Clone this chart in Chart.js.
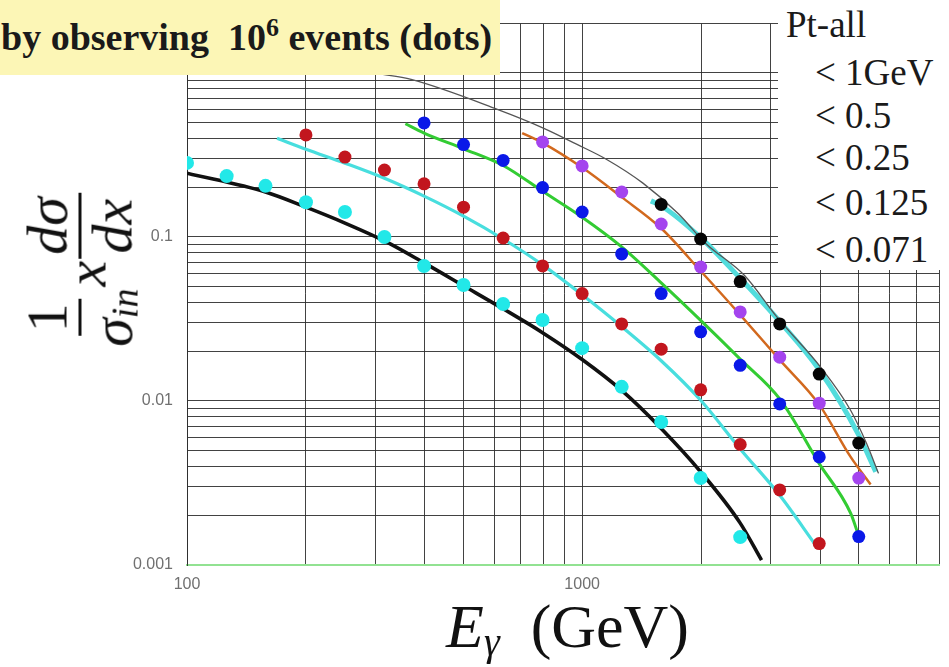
<!DOCTYPE html>
<html><head><meta charset="utf-8">
<script src="https://cdn.jsdelivr.net/npm/chart.js@4"></script>
<style>
html,body{margin:0;padding:0;background:#fff;}
#wrap{position:relative;width:949px;height:667px;overflow:hidden;background:#fff;}
#c{position:absolute;left:0;top:0;}
.ov{position:absolute;white-space:nowrap;}
#titlebox{left:0;top:0;width:500px;height:75px;background:#fcf6b6;}
#title{left:1px;top:18px;font:bold 38px 'Liberation Serif','Times New Roman',serif;line-height:38px;color:#1a1a1a;}
#title .sup{font-size:26px;position:relative;top:-14px;}
#legbox{left:778px;top:0;width:171px;height:270px;background:#fff;}
.leg{font:37px 'Liberation Serif','Times New Roman',serif;line-height:37px;color:#1a1a1a;}
#ylab{left:80px;top:270px;transform:translate(-50%,-50%) rotate(-90deg);font:italic 58px 'Liberation Serif','Times New Roman',serif;color:#111;display:flex;align-items:center;line-height:1;}
.frac{display:inline-flex;flex-direction:column;align-items:center;}
.num{border-bottom:3px solid #111;padding:0 4px 2px 4px;line-height:1;}
.den{line-height:1;padding-top:2px;}
.rm{font-style:normal;}
#ylab sub{font-size:38px;position:relative;top:6px;vertical-align:baseline;}
.xv{position:relative;top:6px;margin:0 2px;}
#xlab{left:446px;top:595px;font:62px 'Liberation Serif','Times New Roman',serif;line-height:62px;color:#111;}
#xlab .it{font-style:italic;}
#xlab .sb{font-style:italic;font-size:40px;position:relative;top:8px;}
</style></head>
<body>
<div id="wrap">
<canvas id="c" width="949" height="667"></canvas>
<div class="ov" id="titlebox"></div>
<div class="ov" id="title">by observing&nbsp;&nbsp;10<span class="sup">6</span> events (dots)</div>
<div class="ov" id="legbox"></div>
<div class="ov leg" style="left:786px;top:6px;">Pt-all</div>
<div class="ov leg" style="left:815px;top:54px;">&lt; 1GeV</div>
<div class="ov leg" style="left:815px;top:97px;">&lt; 0.5</div>
<div class="ov leg" style="left:815px;top:139px;">&lt; 0.25</div>
<div class="ov leg" style="left:815px;top:184px;">&lt; 0.125</div>
<div class="ov leg" style="left:815px;top:231px;">&lt; 0.071</div>
<div class="ov" id="ylab"><span class="frac"><span class="num rm">1</span><span class="den">σ<sub>in</sub></span></span><span class="xv">x</span><span class="frac"><span class="num">dσ</span><span class="den">dx</span></span></div>
<div class="ov" id="xlab"><span class="it">E</span><span class="sb">γ</span>&nbsp;&nbsp;(GeV)</div>
</div>
<script>
// ---- tick labels ----
const xLabelAt = [100, 1000];
const xTickLabels = ['100', '1000'];
const yLabelAt = [0.001, 0.01, 0.1];
const yTickLabels = ['0.001', '0.01', '0.1'];
const xMin = 100, xMax = 8000, yMin = 0.001, yMax = 2;

// ---- dots (simulated 10^6 events) ----
const cyanDotX = [100,126,158,200,251,316,398,501,631,794,1000,1259,1585,1995,2512];
const cyanDotY = [0.283,0.235,0.205,0.163,0.142,0.100,0.0666,0.051,0.039,0.0312,0.021,0.0122,0.00745,0.00339,0.00148];
const redDotX = [200,251,316,398,501,631,794,1000,1259,1585,1995,2512,3162,3981];
const redDotY = [0.419,0.307,0.256,0.211,0.152,0.0986,0.0666,0.0452,0.0295,0.0207,0.0117,0.00543,0.00287,0.00135];
const blueDotX = [398,501,631,794,1000,1259,1585,1995,2512,3162,3981,5012];
const blueDotY = [0.496,0.366,0.293,0.200,0.142,0.0788,0.0452,0.0264,0.0165,0.0096,0.00456,0.00149];
const purpleDotX = [794,1000,1259,1585,1995,2512,3162,3981,5012];
const purpleDotY = [0.380,0.271,0.188,0.120,0.0656,0.0349,0.0185,0.0097,0.00339];
const blackDotX = [1585,1995,2512,3162,3981,5012];
const blackDotY = [0.158,0.0972,0.0535,0.0295,0.0146,0.00554];

// ---- curves ----
const blackCurveX = [100,158,200,251,316,398,501,631,794,1000,1259,1585,1995,2512,2844];
const blackCurveY = [0.245,0.188,0.152,0.1216,0.0946,0.0695,0.0504,0.0365,0.0261,0.0179,0.0116,0.0068,0.0037,0.0018,0.00107];
const cyanCurve2X = [169,200,251,316,398,501,631,794,1000,1259,1585,1995,2512,3162,3900];
const cyanCurve2Y = [0.40,0.343,0.282,0.228,0.1775,0.134,0.0972,0.0676,0.0444,0.0284,0.0176,0.0101,0.0051,0.00266,0.00132];
const greenCurveX = [357,398,501,631,794,1000,1259,1585,1995,2512,3162,3981,4780,5012];
const greenCurveY = [0.49,0.43,0.345,0.273,0.19,0.132,0.087,0.0525,0.031,0.018,0.0103,0.00415,0.00207,0.0015];
const orangeCurveX = [705,794,1000,1259,1585,1995,2512,3162,3981,4780,5370];
const orangeCurveY = [0.43,0.375,0.265,0.175,0.113,0.062,0.0335,0.0178,0.0095,0.00456,0.0031];
const cyanCurve3X = [1493,1585,1995,2512,3162,3981,5012,5534];
const cyanCurve3Y = [0.166,0.155,0.099,0.056,0.0305,0.0155,0.0062,0.0037];
const grayCurveX = [305,369,610,800,968,1151,1425,1755,2048,2580,3121,4019,4783,5243,5623];
const grayCurveY = [0.99,0.913,0.600,0.460,0.368,0.298,0.213,0.138,0.092,0.058,0.0322,0.016,0.00875,0.00552,0.00362];

function pts(xs, ys) { return xs.map((x, i) => ({x: x, y: ys[i]})); }

// grid positions (1..9 per decade)
const xGrid = [];
[100, 1000].forEach(d => { for (let m = 1; m <= 9; m++) { const v = d * m; if (v <= xMax) xGrid.push(v); } });
const yGrid = [];
[0.001, 0.01, 0.1].forEach(d => { for (let m = 1; m <= 9; m++) yGrid.push(+(d * m).toPrecision(3)); });
yGrid.push(1, 2);

function curve(xs, ys, color, width, order) {
  return {type: 'line', data: pts(xs, ys), borderColor: color, borderWidth: width,
    pointRadius: 0, fill: false, cubicInterpolationMode: 'monotone', order: order};
}
function dots(xs, ys, color, r, order) {
  return {type: 'line', data: pts(xs, ys), showLine: false, pointRadius: r, pointHoverRadius: r,
    pointBackgroundColor: color, pointBorderWidth: 0, borderColor: color, order: order};
}

const gridDark = 'rgba(45,45,45,0.9)';
const green = '#92e292';

new Chart(document.getElementById('c'), {
  type: 'line',
  data: {
    datasets: [
      dots(blackDotX, blackDotY, '#050505', 6.5, 1),
      dots(purpleDotX, purpleDotY, '#a444ee', 6.5, 1),
      dots(blueDotX, blueDotY, '#0a18e8', 6.5, 1),
      dots(redDotX, redDotY, '#c2161e', 6.5, 1),
      dots(cyanDotX, cyanDotY, '#22e8e8', 7, 1),
      curve(grayCurveX, grayCurveY, '#555555', 1.3, 5),
      curve(cyanCurve3X, cyanCurve3Y, '#52dcdc', 5, 6),
      curve(orangeCurveX, orangeCurveY, '#d2691e', 2.5, 7),
      curve(greenCurveX, greenCurveY, '#33cc33', 3, 8),
      curve(cyanCurve2X, cyanCurve2Y, '#48dede', 3.2, 9),
      curve(blackCurveX, blackCurveY, '#111111', 3.6, 10)
    ]
  },
  options: {
    responsive: false,
    animation: false,
    events: [],
    layout: {padding: {left: 0, top: 22, right: 3, bottom: 0}},
    plugins: {legend: {display: false}, tooltip: {enabled: false}, title: {display: false}},
    scales: {
      x: {
        type: 'logarithmic', min: xMin, max: xMax, position: 'bottom',
        afterBuildTicks: s => { s.ticks = xGrid.map(v => ({value: v})); },
        afterFit: s => { s.height = 102; },
        grid: {color: gridDark, lineWidth: 1, drawTicks: false},
        border: {display: true, color: green, width: 2},
        ticks: {
          autoSkip: false, maxRotation: 0, minRotation: 0, padding: 10,
          color: '#707070', font: {family: "'Liberation Sans', Arial, sans-serif", size: 16},
          callback: v => { const i = xLabelAt.indexOf(v); return i >= 0 ? xTickLabels[i] : ''; }
        }
      },
      y: {
        type: 'logarithmic', min: yMin, max: yMax, position: 'left',
        afterBuildTicks: s => { s.ticks = yGrid.map(v => ({value: v})); },
        afterFit: s => { s.width = 187; },
        grid: {color: c => (c.index === 0 ? green : gridDark), lineWidth: c => (c.index === 0 ? 2 : 1), drawTicks: false},
        border: {display: true, color: gridDark, width: 1},
        ticks: {
          autoSkip: false, padding: 14,
          color: '#707070', font: {family: "'Liberation Sans', Arial, sans-serif", size: 16},
          callback: v => { const i = yLabelAt.indexOf(v); return i >= 0 ? yTickLabels[i] : ''; }
        }
      }
    }
  }
});
</script>
</body></html>
